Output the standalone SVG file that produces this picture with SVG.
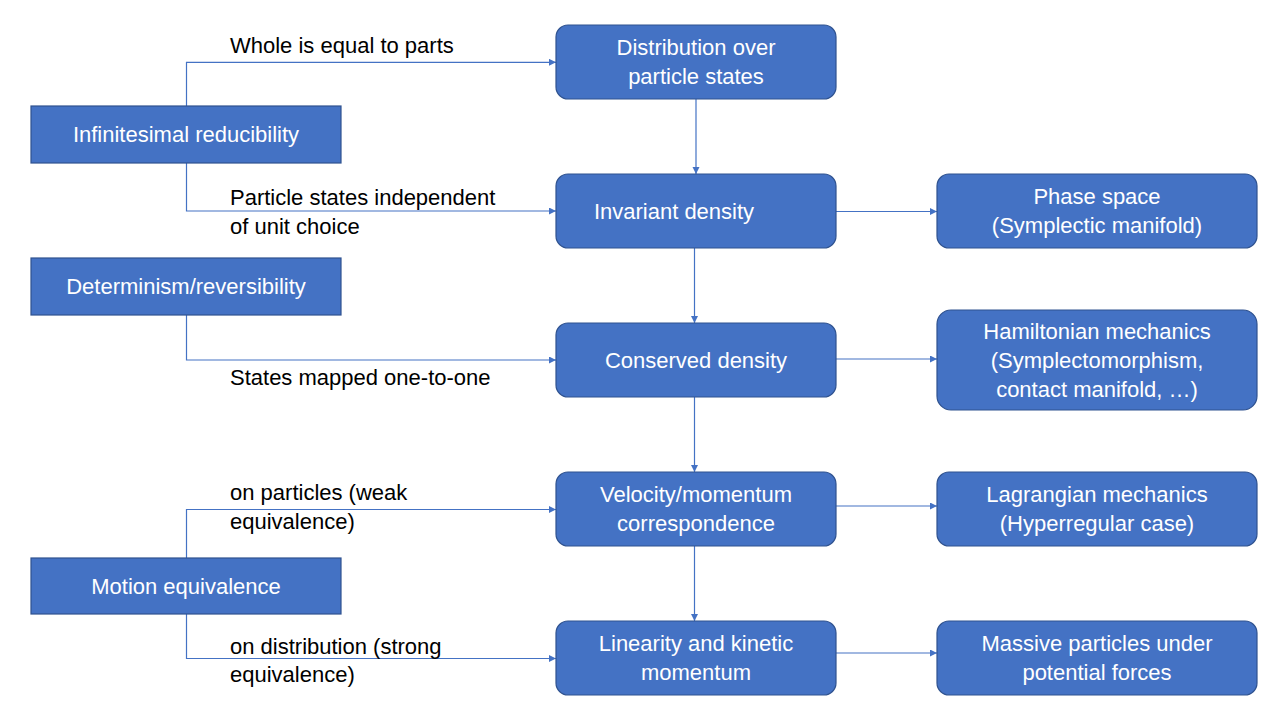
<svg xmlns="http://www.w3.org/2000/svg" width="1280" height="720" viewBox="0 0 1280 720">
<style>
.box{fill:#4472C4;stroke:#2F528F;stroke-width:1.2}
.t{font-family:"Liberation Sans",Arial,sans-serif;font-size:22px;fill:#ffffff;text-anchor:middle}
.l{font-family:"Liberation Sans",Arial,sans-serif;font-size:22px;fill:#000000}
.c{fill:none;stroke:#4472C4;stroke-width:1.2}
</style>
<defs>
<marker id="ah" markerUnits="userSpaceOnUse" markerWidth="8" markerHeight="8" refX="7" refY="3.5" orient="auto">
<path d="M0,0 L7,3.5 L0,7 z" fill="#4472C4"/>
</marker>
</defs>
<rect width="1280" height="720" fill="#ffffff"/>
<g id="connectors">
<path class="c" d="M186.5,106 V62.3 H556" marker-end="url(#ah)"/>
<path class="c" d="M186.5,163 V211 H556" marker-end="url(#ah)"/>
<path class="c" d="M186.5,315 V360 H556" marker-end="url(#ah)"/>
<path class="c" d="M186.5,558 V509.5 H556" marker-end="url(#ah)"/>
<path class="c" d="M186.5,614 V658.5 H556" marker-end="url(#ah)"/>
<path class="c" d="M696,99 V174" marker-end="url(#ah)"/>
<path class="c" d="M694.5,248 V323" marker-end="url(#ah)"/>
<path class="c" d="M694.5,397 V472" marker-end="url(#ah)"/>
<path class="c" d="M694.5,546 V621" marker-end="url(#ah)"/>
<path class="c" d="M836,211.5 H937" marker-end="url(#ah)"/>
<path class="c" d="M836,359 H937" marker-end="url(#ah)"/>
<path class="c" d="M836,506 H937" marker-end="url(#ah)"/>
<path class="c" d="M836,653 H937" marker-end="url(#ah)"/>
</g>
<g id="edge-labels">
<text class="l" x="230" y="53">Whole is equal to parts</text>
<text class="l" x="230" y="205">Particle states independent</text>
<text class="l" x="230" y="234">of unit choice</text>
<text class="l" x="230" y="385">States mapped one-to-one</text>
<text class="l" x="230" y="500">on particles (weak</text>
<text class="l" x="230" y="529">equivalence)</text>
<text class="l" x="230" y="654">on distribution (strong</text>
<text class="l" x="230" y="682">equivalence)</text>
</g>
<g id="infinitesimal">
<rect class="box" x="31" y="106" width="310" height="57"/>
<text class="t" x="186" y="142">Infinitesimal reducibility</text>
</g>
<g id="determinism">
<rect class="box" x="31" y="258" width="310" height="57"/>
<text class="t" x="186" y="294">Determinism/reversibility</text>
</g>
<g id="motion">
<rect class="box" x="31" y="558" width="310" height="56"/>
<text class="t" x="186" y="594">Motion equivalence</text>
</g>
<g id="distribution">
<rect class="box" x="556" y="25" width="280" height="74" rx="12"/>
<text class="t" x="696" y="55">Distribution over</text>
<text class="t" x="696" y="84">particle states</text>
</g>
<g id="invariant">
<rect class="box" x="556" y="174" width="280" height="74" rx="12"/>
<text class="t" x="674" y="219">Invariant density</text>
</g>
<g id="conserved">
<rect class="box" x="556" y="323" width="280" height="74" rx="12"/>
<text class="t" x="696" y="368">Conserved density</text>
</g>
<g id="velocity">
<rect class="box" x="556" y="472" width="280" height="74" rx="12"/>
<text class="t" x="696" y="502">Velocity/momentum</text>
<text class="t" x="696" y="531">correspondence</text>
</g>
<g id="linearity">
<rect class="box" x="556" y="621" width="280" height="74" rx="12"/>
<text class="t" x="696" y="651">Linearity and kinetic</text>
<text class="t" x="696" y="680">momentum</text>
</g>
<g id="phase">
<rect class="box" x="937" y="174" width="320" height="74" rx="12"/>
<text class="t" x="1097" y="204">Phase space</text>
<text class="t" x="1097" y="233">(Symplectic manifold)</text>
</g>
<g id="hamiltonian">
<rect class="box" x="937" y="310" width="320" height="100" rx="14"/>
<text class="t" x="1097" y="339">Hamiltonian mechanics</text>
<text class="t" x="1097" y="368">(Symplectomorphism,</text>
<text class="t" x="1097" y="397">contact manifold, …)</text>
</g>
<g id="lagrangian">
<rect class="box" x="937" y="472" width="320" height="74" rx="12"/>
<text class="t" x="1097" y="502">Lagrangian mechanics</text>
<text class="t" x="1097" y="531">(Hyperregular case)</text>
</g>
<g id="massive">
<rect class="box" x="937" y="621" width="320" height="74" rx="12"/>
<text class="t" x="1097" y="651">Massive particles under</text>
<text class="t" x="1097" y="680">potential forces</text>
</g>
</svg>
